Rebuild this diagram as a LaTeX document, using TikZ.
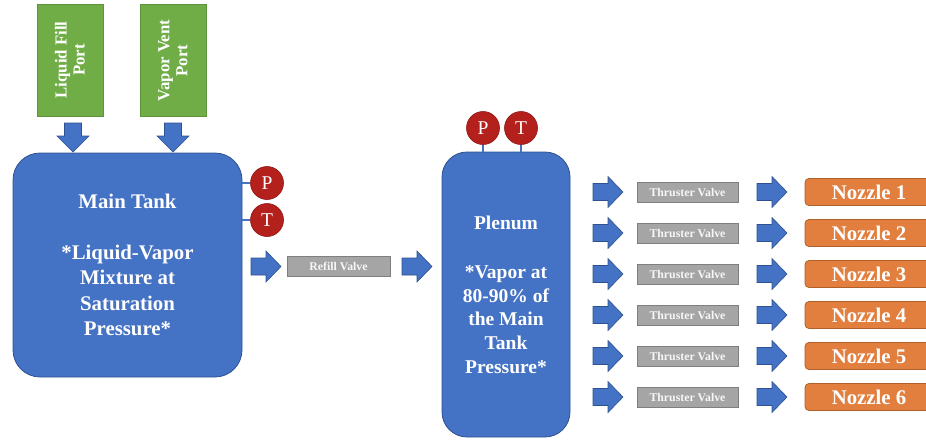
\documentclass[tikz,border=0pt]{standalone}
\usepackage{fontspec}
\setmainfont{Liberation Serif}
\definecolor{tankblue}{HTML}{4472C4}
\definecolor{tankedge}{HTML}{2F528F}
\definecolor{portgreen}{HTML}{70AD47}
\definecolor{gaugered}{HTML}{B4201C}
\definecolor{gaugeedge}{HTML}{8E1512}
\definecolor{valvegray}{HTML}{A5A5A5}
\definecolor{valveedge}{HTML}{7F7F7F}
\definecolor{nozzleorange}{HTML}{E27F3E}
\definecolor{nozzleedge}{HTML}{B0612A}
\begin{document}
\begin{tikzpicture}[x=1pt,y=-1pt,
  tank/.style={draw=tankedge, line width=0.8pt, fill=tankblue, text=white, align=center, inner sep=0pt},
  port/.style={fill=portgreen, draw=portgreen!85!black, line width=0.5pt, rotate=90, minimum width=112pt, minimum height=66pt, inner sep=0pt, align=center, text=white, font=\bfseries\fontsize{16.8}{18}\selectfont},
  gauge/.style={circle, fill=gaugered, draw=gaugeedge, line width=0.6pt, minimum size=33pt, inner sep=0pt, text=white, font=\fontsize{19.5}{19.5}\selectfont},
  valvebox/.style={fill=valvegray, draw=valveedge, line width=0.8pt, minimum height=20pt, inner sep=0pt, text=white!94!gray, font=\bfseries\fontsize{11.8}{12}\selectfont},
  nozzlebox/.style={fill=nozzleorange, draw=nozzleedge, line width=0.8pt, rounded corners=4pt, minimum width=128pt, minimum height=27pt, inner sep=0pt, text=white, font=\bfseries\fontsize{20.8}{20.8}\selectfont},
  gline/.style={draw=tankblue, line width=1.5pt},
  rarr/.pic={\filldraw[fill=tankblue, draw=tankedge, line width=0.6pt] (0,-8.5) -- (15,-8.5) -- (15,-15.5) -- (30,0) -- (15,15.5) -- (15,8.5) -- (0,8.5) -- cycle;},
  darr/.pic={\filldraw[fill=tankblue, draw=tankedge, line width=0.6pt] (-8.5,0) -- (8.5,0) -- (8.5,13) -- (16,13) -- (0,29) -- (-16,13) -- (-8.5,13) -- cycle;}
]
\useasboundingbox (0,0) rectangle (926,440);

% ports
\node[port] (lfp) at (70,60) {Liquid Fill\\Port};
\node[port] (vvp) at (173,60.5) {Vapor Vent\\Port};
\pic at (73,123) {darr};
\pic at (173,123) {darr};

% main tank
\node[tank, rounded corners=27pt, minimum width=229pt, minimum height=224pt,
      font=\bfseries\fontsize{20.8}{25.5}\selectfont] (main) at (127.5,265)
  {Main Tank\\[25.5pt]*Liquid-Vapor\\Mixture at\\Saturation\\Pressure*};

\node[gauge] (mp) at (267,183) {P};
\node[gauge] (mt) at (267,220) {T};
\draw[gline] (main.east |- mp) -- (mp);
\draw[gline] (main.east |- mt) -- (mt);

% refill
\pic at (251,266.5) {rarr};
\node[valvebox, minimum width=103pt] (refill) at (338.5,266.5) {Refill Valve};
\pic at (402,266.5) {rarr};

% plenum
\node[tank, rounded corners=25pt, minimum width=128pt, minimum height=285pt,
      font=\bfseries\fontsize{19.5}{23.6}\selectfont] (plenum) at (506,294.5)
  {Plenum\\[26pt]*Vapor at\\80-90\% of\\the Main\\Tank\\Pressure*};

\node[gauge] (pp) at (483,128) {P};
\node[gauge] (pt) at (521,128) {T};
\draw[gline] (pp) -- (pp |- plenum.north);
\draw[gline] (pt) -- (pt |- plenum.north);

% thrusters
\foreach \i in {1,...,6}{
  \pgfmathsetmacro{\yy}{192+41*(\i-1)}
  \pic at (593,\yy) {rarr};
  \node[valvebox, minimum width=101pt] (v\i) at (687.5,\yy) {Thruster Valve};
  \pic at (757,\yy) {rarr};
  \node[nozzlebox] (n\i) at (869,\yy) {Nozzle \i};
}
\end{tikzpicture}
\end{document}
